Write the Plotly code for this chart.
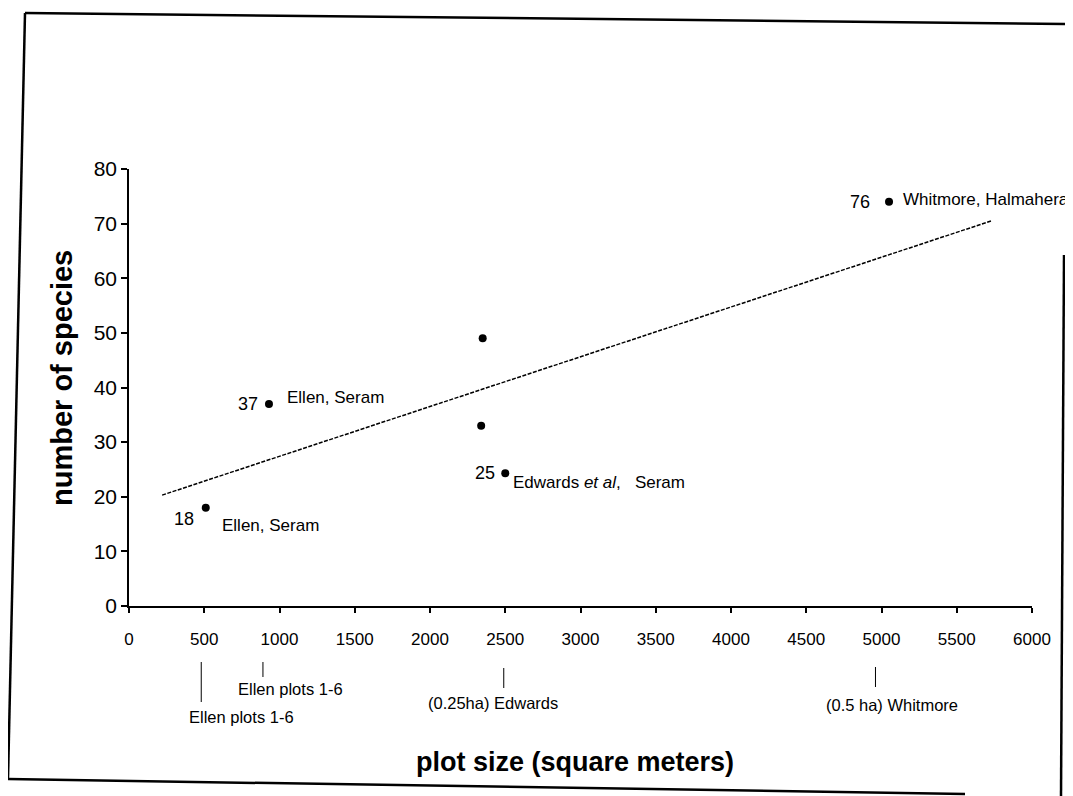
import plotly.graph_objects as go

# ---- data ----
plot_size = [510, 930, 2350, 2340, 2500, 5050]
species = [18, 37, 49, 33, 24.3, 74]
value_labels = ["18", "37", "", "", "25", "76"]
site_labels = ["Ellen, Seram", "Ellen, Seram", "", "", "Edwards <i>et al</i>,&nbsp;&nbsp;&nbsp;Seram",
               "Whitmore, Halmahera"]

trend_x = [220, 5730]
trend_y = [20.3, 70.5]

leader_x = [480, 890, 2490, 4960]
leader_labels = ["Ellen plots 1-6", "Ellen plots 1-6", "(0.25ha) Edwards", "(0.5 ha) Whitmore"]

x_ticks = list(range(0, 6001, 500))
y_ticks = list(range(0, 81, 10))

# ---- layout geometry (page pixels; page body has an 8px margin) ----
OFF = 8
W, H = 1073 - OFF, 796 - OFF
PLOT_L, PLOT_R, PLOT_T, PLOT_B = 129, 1032, 169, 606
ML, MR, MT, MB = PLOT_L - OFF, W - (PLOT_R - OFF), PLOT_T - OFF, H - (PLOT_B - OFF)
PW, PH = PLOT_R - PLOT_L, PLOT_B - PLOT_T


def px(x, y):
    """page pixel -> paper coordinates"""
    return (x - PLOT_L) / PW, (PLOT_B - y) / PH


FONT = "Liberation Sans, Arial, sans-serif"

fig = go.Figure()

fig.add_trace(go.Scatter(
    x=trend_x, y=trend_y, mode="lines",
    line=dict(color="black", width=1.5, dash="4px,1.5px"),
    hoverinfo="skip", showlegend=False,
))
fig.add_trace(go.Scatter(
    x=plot_size, y=species, mode="markers",
    marker=dict(color="black", size=8),
    showlegend=False,
))

# offsets (style) for the value / site labels
num_shift = [(-10, -11), (-9, 0), None, None, (-8, 0), (-17, 0)]
site_shift = [(14, -18), (16, 6), None, None, (6, -9), (12, 2)]

annotations = []
for i, (xv, yv) in enumerate(zip(plot_size, species)):
    if value_labels[i]:
        dx, dy = num_shift[i]
        annotations.append(dict(
            x=xv, y=yv, xref="x", yref="y", text=value_labels[i], showarrow=False,
            xanchor="right", yanchor="middle", xshift=dx, yshift=dy,
            font=dict(family=FONT, size=18, color="black")))
    if site_labels[i]:
        dx, dy = site_shift[i]
        annotations.append(dict(
            x=xv, y=yv, xref="x", yref="y", text=site_labels[i], showarrow=False,
            xanchor="left", yanchor="middle", xshift=dx, yshift=dy,
            font=dict(family=FONT, size=17, color="black")))

# leader lines and labels below the x axis
leader_pix = [(662, 702, 717), (662, 677, 689), (668, 688, 703), (667, 687, 705)]
label_dx = [40, 28, -11, 17]
shapes = []
for xv, lab, (y0, y1, yl), ddx in zip(leader_x, leader_labels, leader_pix, label_dx):
    _, p0 = px(0, y0)
    _, p1 = px(0, y1)
    _, pl = px(0, yl)
    shapes.append(dict(type="line", xref="x", yref="paper", x0=xv, x1=xv, y0=p0, y1=p1,
                       line=dict(color="black", width=1)))
    annotations.append(dict(
        x=xv, y=pl, xref="x", yref="paper", text=lab, showarrow=False,
        xanchor="center", yanchor="middle", xshift=ddx,
        font=dict(family=FONT, size=16.5, color="black")))

# axis titles
tx, ty = px(575, 762)
annotations.append(dict(x=tx, y=ty, xref="paper", yref="paper", showarrow=False,
                        text="<b>plot size (square meters)</b>", xanchor="center", yanchor="middle",
                        font=dict(family=FONT, size=27, color="black")))
tx, ty = px(62, 378)
annotations.append(dict(x=tx, y=ty, xref="paper", yref="paper", showarrow=False,
                        text="<b>number of species</b>", textangle=-90,
                        xanchor="center", yanchor="middle",
                        font=dict(family=FONT, size=29, color="black")))

# scanned page frame
frame = [((25, 13), (1073, 24)), ((25, 13), (8, 779)), ((8, 779), (965, 794)), ((1064, 255), (1061, 796))]
for (xa, ya), (xb, yb) in frame:
    a0, b0 = px(xa, ya)
    a1, b1 = px(xb, yb)
    shapes.append(dict(type="line", xref="paper", yref="paper", x0=a0, y0=b0, x1=a1, y1=b1,
                       line=dict(color="black", width=2.5)))

fig.update_layout(
    width=W, height=H,
    margin=dict(l=ML, r=MR, t=MT, b=MB),
    paper_bgcolor="white", plot_bgcolor="white",
    annotations=annotations, shapes=shapes,
    xaxis=dict(range=[0, 6000], tickvals=x_ticks, ticktext=[str(v) for v in x_ticks],
               showgrid=False, zeroline=False, showline=True, linecolor="black", linewidth=1.5,
               ticks="outside", ticklen=5, tickcolor="black", tickwidth=1.5,
               ticklabelstandoff=12,
               tickfont=dict(family=FONT, size=17, color="black")),
    yaxis=dict(range=[0, 80], tickvals=y_ticks, ticktext=[str(v) for v in y_ticks],
               showgrid=False, zeroline=False, showline=True, linecolor="black", linewidth=1.5,
               ticks="outside", ticklen=6, tickcolor="black", tickwidth=1.5,
               ticklabelstandoff=0,
               tickfont=dict(family=FONT, size=21, color="black")),
)

fig.write_html("out.html")
